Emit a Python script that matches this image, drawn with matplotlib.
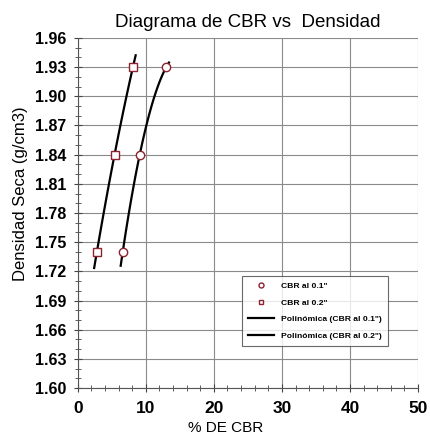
import numpy as np
import matplotlib.pyplot as plt
from matplotlib.ticker import MultipleLocator

plt.rcParams['font.family'] = ['Liberation Sans', 'DejaVu Sans']

# CBR test results at each dry density
densidad = [1.74, 1.84, 1.93]
cbr_01 = [6.6, 9.1, 13.0]
cbr_02 = [2.8, 5.4, 8.1]

yticks = [1.60, 1.63, 1.66, 1.69, 1.72, 1.75, 1.78, 1.81, 1.84, 1.87, 1.90, 1.93, 1.96]

fig = plt.figure(figsize=(4.3, 4.41), dpi=100)
ax = fig.add_axes([0.181, 0.120, 0.791, 0.794])

# second order trend lines (density as a function of CBR)
p1 = np.polyfit(cbr_01, densidad, 2)
p2 = np.polyfit(cbr_02, densidad, 2)
x1 = np.linspace(6.3, 13.4, 100)
x2 = np.linspace(2.4, 8.5, 100)

ax.plot(cbr_01, densidad, 'o', ms=6, mfc='white', mec='#8b2330', mew=1.0,
        label='CBR al 0.1"', zorder=3)
ax.plot(cbr_02, densidad, 's', ms=6, mfc='white', mec='#8b2330', mew=1.0,
        label='CBR al 0.2"', zorder=3)
ax.plot(x1, np.polyval(p1, x1), color='black', lw=1.6,
        label='Polinómica (CBR al 0.1")')
ax.plot(x2, np.polyval(p2, x2), color='black', lw=1.6,
        label='Polinómica (CBR al 0.2")')

ax.set_xlim(0, 50)
ax.set_ylim(1.60, 1.96)
ax.set_yticks(yticks)
ax.set_yticklabels([f'{v:.2f}' for v in yticks])
ax.xaxis.set_major_locator(MultipleLocator(10))
ax.xaxis.set_minor_locator(MultipleLocator(2))
ax.yaxis.set_minor_locator(MultipleLocator(0.01))
ax.tick_params(axis='both', which='both', direction='inout', color='#444444')
ax.tick_params(axis='both', which='major', length=6)
ax.tick_params(axis='both', which='minor', length=4)
ax.tick_params(axis='y', labelsize=11.5, pad=5)
ax.tick_params(axis='x', labelsize=12.5, pad=6)
for lbl in ax.get_yticklabels() + ax.get_xticklabels():
    lbl.set_fontweight('bold')

ax.grid(True, which='major', color='#8a8a8a', lw=0.8)
for s in ['top', 'right']:
    ax.spines[s].set_visible(False)
for s in ['left', 'bottom']:
    ax.spines[s].set_color('#555555')

ax.set_title('Diagrama de CBR vs  Densidad', fontsize=13.5, pad=8)
ax.set_xlabel('% DE CBR', fontsize=11)
ax.set_ylabel('Densidad Seca (g/cm3)', fontsize=12)
ax.xaxis.set_label_coords(0.434, -0.095)
ax.yaxis.set_label_coords(-0.147, 0.554)

leg = ax.legend(loc='upper left', bbox_to_anchor=(0.469, 0.333),
                frameon=True, fancybox=False, edgecolor='#444444',
                handlelength=3.0, borderpad=0.8, labelspacing=1.0,
                markerscale=0.6, prop={'weight': 'bold', 'size': 6.1})
leg.get_frame().set_linewidth(0.8)

fig.savefig('out.png', dpi=100)
